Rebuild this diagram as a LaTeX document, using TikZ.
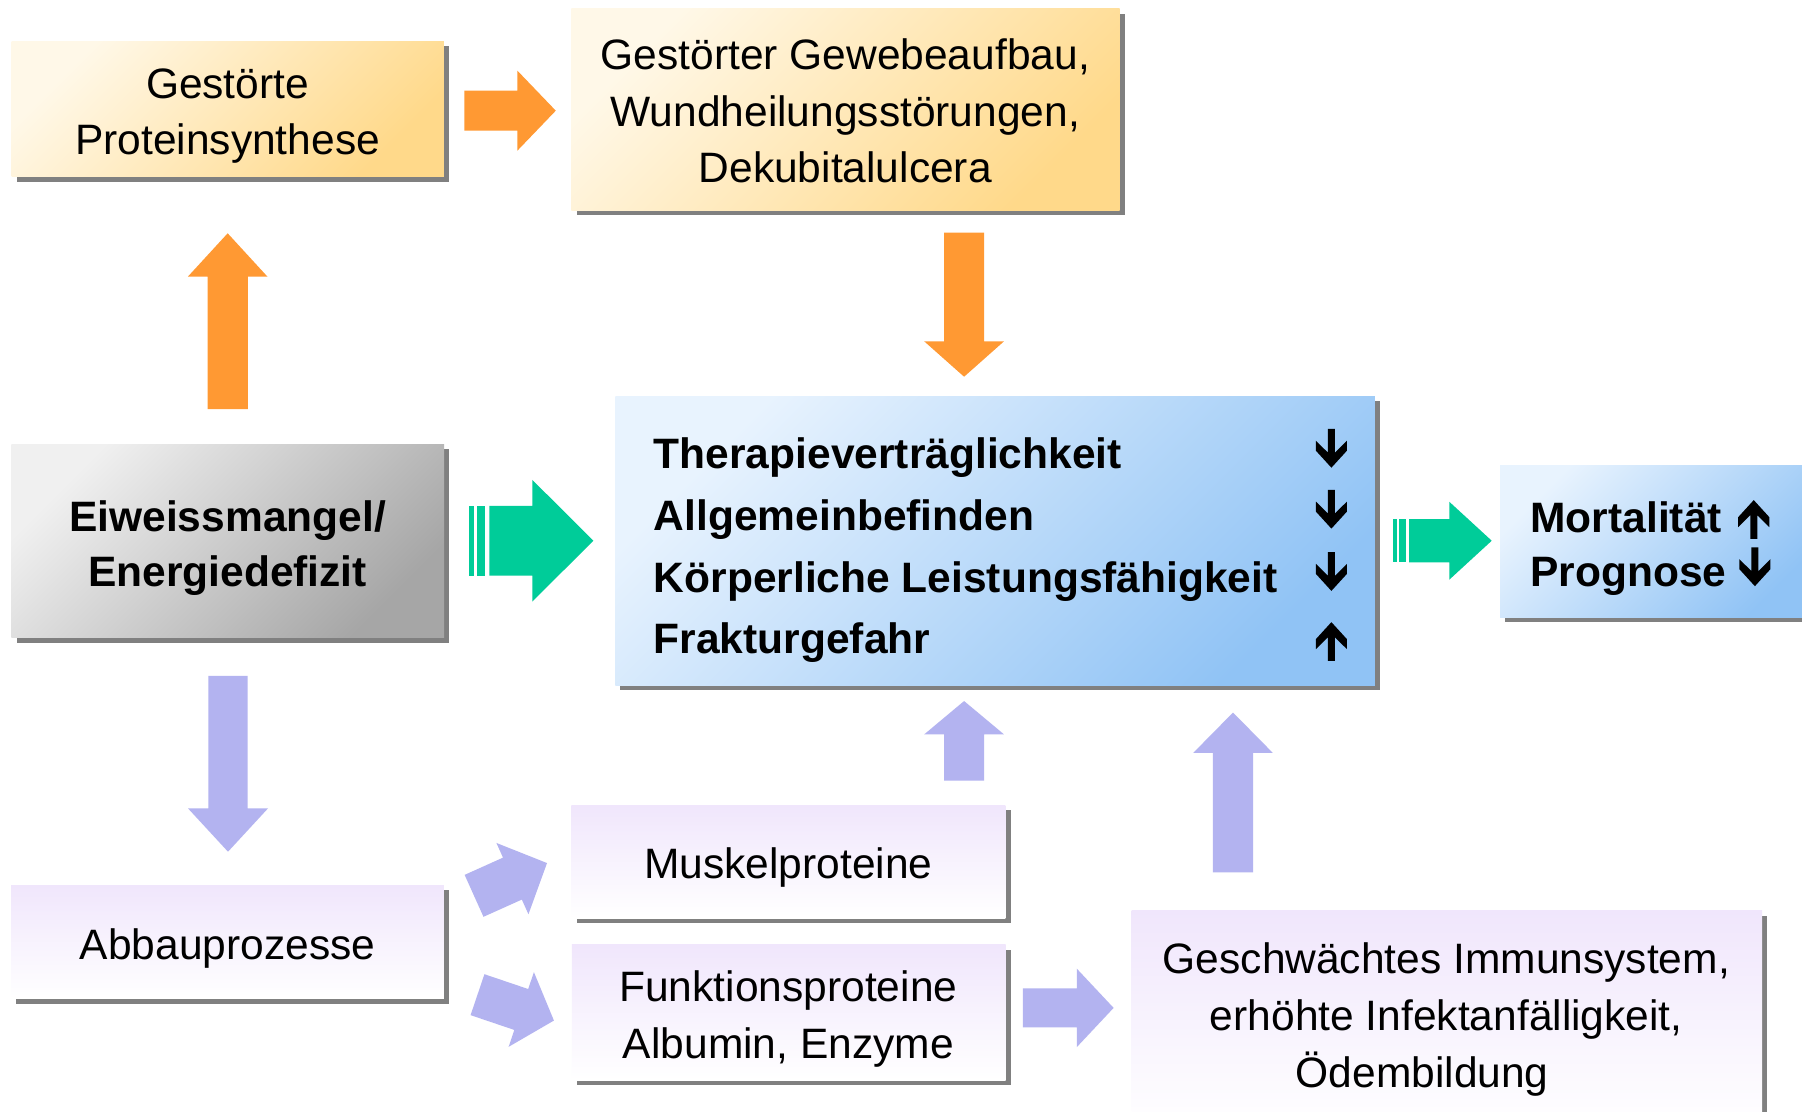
\documentclass[tikz,border=0pt]{standalone}
\usepackage{fontspec}
\setmainfont{Liberation Sans}
\usetikzlibrary{shadows}
\definecolor{orangeA}{HTML}{FF9933}
\definecolor{greenA}{HTML}{00CC99}
\definecolor{purpA}{HTML}{B3B3F0}
\definecolor{shadowG}{HTML}{808080}
\definecolor{goldL}{HTML}{FFF8E8}
\definecolor{goldD}{HTML}{FFD98A}
\definecolor{grayL}{HTML}{F0F0F0}
\definecolor{grayD}{HTML}{A6A6A6}
\definecolor{blueL}{HTML}{E8F3FE}
\definecolor{blueD}{HTML}{90C3F5}
\definecolor{lavL}{HTML}{F0E6FC}
% block arrow: x, y (tail middle), angle, length, shaft half width, head half width, head length, colour
\newcommand\blockarr[8]{%
  \begin{scope}[shift={(#1,#2)},rotate=#3]
    \fill[#8] (0,-#5) -- ({#4-#7},-#5) -- ({#4-#7},-#6) -- (#4,0) -- ({#4-#7},#6) -- ({#4-#7},#5) -- (0,#5) -- cycle;
  \end{scope}}
% small black arrow glyph: x, y (centre), 1 = down, -1 = up
\newcommand\glypharr[3]{%
  \begin{scope}[shift={(#1,#2)},yscale=#3]
    \fill[black] (-3.05,-16.85) -- (3.05,-16.85) -- (3.05,3.75) -- (13.5,-6.65) -- (13.5,2.05) -- (0,16.85) -- (-13.5,2.05) -- (-13.5,-6.65) -- (-3.05,3.75) -- cycle;
  \end{scope}}
\tikzset{
  box/.style={rectangle, inner sep=0pt, anchor=north west,
    drop shadow={shadow xshift=4.5pt, shadow yshift=-4.5pt, fill=shadowG, opacity=1}},
  goldbox/.style={box, top color=goldL, bottom color=goldD, shading angle=45},
  graybox/.style={box, top color=grayL, bottom color=grayD, shading angle=45},
  bluebox/.style={box, top color=blueL, bottom color=blueD, shading angle=45},
  lavbox/.style={box, top color=lavL, bottom color=white},
  txt/.style={align=center, inner sep=0pt, font=\fontsize{37}{49}\selectfont},
  btxt/.style={align=left, inner sep=0pt, anchor=west, font=\fontsize{37}{53.7}\selectfont\bfseries},
}
\begin{document}
\begin{tikzpicture}[x=1pt,y=-1pt]
\useasboundingbox (0,0) rectangle (1568,967);
\clip (0,0) rectangle (1568,967);
\fill[white] (0,0) rectangle (1568,967);
% boxes
\node[goldbox, minimum width=376pt, minimum height=118pt] (A) at (10,35.7) {};
\node[goldbox, minimum width=477pt, minimum height=175.4pt] (B) at (497,7.3) {};
\node[graybox, minimum width=376.5pt, minimum height=168.2pt] (E) at (9.8,386.4) {};
\node[bluebox, minimum width=661pt, minimum height=251.5pt] (C) at (535.2,344.5) {};
\node[bluebox, minimum width=275pt, minimum height=132pt] (M) at (1305,404.7) {};
\node[lavbox, minimum width=376.5pt, minimum height=98.7pt] (Ab) at (9.5,770) {};
\node[lavbox, minimum width=377.6pt, minimum height=98.3pt] (Mu) at (497,700.5) {};
\node[lavbox, minimum width=377.3pt, minimum height=118.3pt] (Fu) at (497.5,821.5) {};
\node[lavbox, minimum width=548.5pt, minimum height=190pt] (Im) at (984.5,792) {};
% texts
\node[txt] (At) at (198,100.7) {Gestörte\\Proteinsynthese};
\node[txt] (Bt) at (735.5,96.5) {Gestörter Gewebeaufbau,\\Wundheilungsstörungen,\\Dekubitalulcera};
\node[txt, font=\fontsize{37}{48}\selectfont\bfseries] (Et) at (198,477) {Eiweissmangel/\\Energiedefizit};
\node[btxt] (Ct) at (568.7,479) {Therapieverträglichkeit\\Allgemeinbefinden\\Körperliche Leistungsfähigkeit\\Frakturgefahr};
\node[btxt, font=\fontsize{37}{47}\selectfont\bfseries] (Mt) at (1331.5,477.5) {Mortalität\\Prognose};
\node[txt] (Abt) at (198,825.5) {Abbauprozesse};
\node[txt] (Mut) at (686,754.5) {Muskelproteine};
\node[txt] (Fut) at (686,886.8) {Funktionsproteine\\Albumin, Enzyme};
\node[txt, font=\fontsize{37}{49.5}\selectfont] (Imt) at (1258.5,886.8) {Geschwächtes Immunsystem,\\erhöhte Infektanfälligkeit,\\Ödembildung\hspace*{42pt}};
% small arrows
\glypharr{1158.5}{390.1}{1}
\glypharr{1158.5}{443.1}{1}
\glypharr{1158.5}{497.3}{1}
\glypharr{1158.5}{558.2}{-1}
\glypharr{1526}{452}{-1}
\glypharr{1527}{493.2}{1}
% orange arrows
\blockarr{404}{96.3}{0}{79.6}{17.4}{34.8}{33.4}{orangeA}
\blockarr{198.1}{355.9}{90}{152.9}{17.5}{34.7}{37.8}{orangeA}
\blockarr{838.9}{202.5}{-90}{125.3}{17.4}{34.7}{30.8}{orangeA}
% green arrows
\blockarr{425.8}{470.5}{0}{90.5}{30.35}{52.95}{53.1}{greenA}
\fill[greenA] (408.4,440.15) rectangle (412.5,500.85);
\fill[greenA] (415,440.15) rectangle (422,500.85);
\blockarr{1226.1}{470.5}{0}{71.9}{18.85}{33.8}{36.8}{greenA}
\fill[greenA] (1212.5,451.65) rectangle (1215.4,489.35);
\fill[greenA] (1217.4,451.65) rectangle (1223.2,489.35);
% purple arrows
\blockarr{198.4}{588}{-90}{153.1}{17.1}{34.8}{37.7}{purpA}
\blockarr{412.5}{779.5}{24.2}{69.6}{20}{34}{33}{purpA}
\blockarr{415.5}{865.5}{-18.7}{70.2}{18.8}{34.3}{30}{purpA}
\blockarr{890}{877}{0}{79}{17}{34.1}{32}{purpA}
\blockarr{838.9}{679.3}{90}{69.3}{17.4}{34.7}{29}{purpA}
\blockarr{1072.9}{759}{90}{139}{17.5}{34.5}{35}{purpA}
\end{tikzpicture}
\end{document}
